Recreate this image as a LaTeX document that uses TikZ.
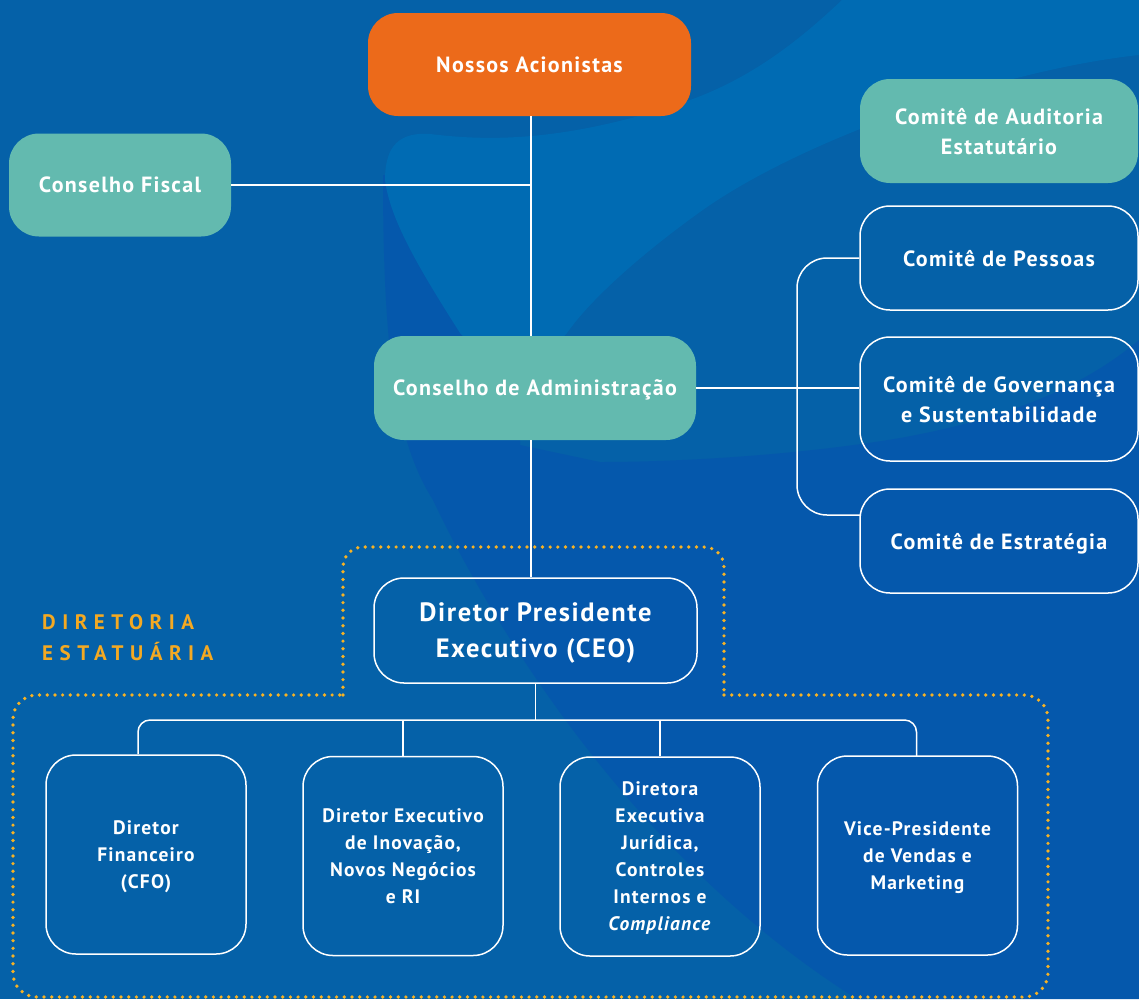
\documentclass[tikz,border=0pt]{standalone}
\usepackage{fontspec}
\setmainfont{PT Sans}[LetterSpace=6]
\newfontfamily\spacedfont[LetterSpace=31]{PT Sans}
\usetikzlibrary{calc}
\definecolor{bgbase}{HTML}{0561A8}
\definecolor{bglight}{HTML}{006BB3}
\definecolor{bgdark}{HTML}{0558AC}
\definecolor{boxteal}{HTML}{63BAAF}
\definecolor{boxorange}{HTML}{EC6A1A}
\definecolor{dotgold}{HTML}{F7B224}
\definecolor{textgold}{HTML}{F4A922}
\begin{document}
\begin{tikzpicture}[x=1pt,y=-1pt,
  basebox/.style={rounded corners=30pt, align=center, text=white, inner sep=0pt, text depth=0pt,
    font=\bfseries\fontsize{22pt}{30pt}\selectfont},
  solidbox/.style={basebox, fill=#1},
  linebox/.style={basebox, draw=white, line width=1.5pt},
  smallbox/.style={linebox, minimum width=200pt, minimum height=199pt,
    font=\bfseries\fontsize{19.5pt}{27pt}\selectfont},
  conn/.style={draw=white, line width=1.5pt},
  dotline/.style={draw=dotgold, line width=3.7pt, line cap=round, dash pattern=on 0pt off 7.7pt}]
% background
\useasboundingbox (0,0) rectangle (1139,999);
\fill[bgbase] (0,0) rectangle (1139,999);
\fill[bgdark] (383,175) .. controls (383,350) and (395,440) .. (433,500)
  .. controls (480,600) and (620,850) .. (857,999) -- (1139,999) -- (1139,340)
  .. controls (1080,390) and (1000,420) .. (900,438) .. controls (800,455) and (680,462) .. (600,462)
  -- (520,445) -- (520,175) -- cycle;
\fill[bglight] (385,180) .. controls (385,145) and (400,132) .. (430,134)
  .. controls (480,140) and (560,145) .. (690,100) .. controls (760,75) and (810,30) .. (842,0)
  -- (1139,0) -- (1139,55) .. controls (1000,70) and (800,140) .. (700,212)
  .. controls (640,255) and (590,300) .. (567,333) -- (515,390) -- (460,333)
  .. controls (420,270) and (390,220) .. (385,180) -- cycle;
% nodes
\node[solidbox=boxorange, minimum width=323pt, minimum height=103pt] (nossos) at (529.5,64.5) {Nossos Acionistas};
\node[solidbox=boxteal, minimum width=222pt, minimum height=103pt] (fiscal) at (120,185) {Conselho Fiscal};
\node[solidbox=boxteal, minimum width=322pt, minimum height=104pt] (ca) at (535,388) {Conselho de Administração};
\node[solidbox=boxteal, minimum width=278pt, minimum height=104pt] (auditoria) at (999,131) {Comitê de Auditoria\\Estatutário};
\node[linebox, minimum width=278pt, minimum height=104pt] (pessoas) at (999,258) {Comitê de Pessoas};
\node[linebox, minimum width=278pt, minimum height=124pt] (governanca) at (999,399) {Comitê de Governança\\e Sustentabilidade};
\node[linebox, minimum width=278pt, minimum height=104pt] (estrategia) at (999,541) {Comitê de Estratégia};
\node[linebox, minimum width=323pt, minimum height=105pt, font=\bfseries\fontsize{26.5pt}{36pt}\selectfont] (ceo) at (535.5,630.5) {Diretor Presidente\\Executivo (CEO)};
\node[smallbox] (b1) at (146,854.5) {Diretor\\Financeiro\\(CFO)};
\node[smallbox] (b2) at (403,856) {Diretor Executivo\\de Inovação,\\Novos Negócios\\e RI};
\node[smallbox] (b3) at (660,856.5) {Diretora\\Executiva\\Jurídica,\\Controles\\Internos e\\\textit{Compliance}};
\node[smallbox] (b4) at (917.5,855.5) {Vice-Presidente\\de Vendas e\\Marketing};
\node[anchor=west, align=left, text=textgold, inner sep=0pt,
  font=\spacedfont\bfseries\fontsize{21pt}{31pt}\selectfont] (diretoria) at (42,638) {DIRETORIA\\ESTATUÁRIA};
% coordinates
\coordinate (trunk) at (531,0);
\coordinate (brx) at (797,0);
\coordinate (brb) at (861,515);
\coordinate (bus) at (0,720);
\coordinate (d1) at (138,754);
\coordinate (d4) at (916.5,756);
% connectors
\draw[conn] (trunk |- nossos.south) -- (trunk |- ca.north);
\draw[conn] (fiscal.east) -- (trunk |- fiscal.east);
\draw[conn] (trunk |- ca.south) -- (trunk |- ceo.north);
\draw[conn] (ca.east) -- (ca.east -| governanca.west);
\draw[conn, rounded corners=30pt] (pessoas.west) -- (brx |- pessoas.west) -- (brx |- brb) -- (brb);
\draw[conn] (ceo.south) -- (ceo.south |- bus);
\draw[conn, rounded corners=12pt] (d1) -- (d1 |- bus) -- (d4 |- bus) -- (d4);
\draw[conn] (b2.north) -- (b2.north |- bus);
\draw[conn] (b3.north) -- (b3.north |- bus);
% dotted frame
\draw[dotline, rounded corners=20pt] (343,695) -- (343,547) -- (724,547) -- (724,695);
\draw[dotline, rounded corners=24pt] (724,695) -- (1048,695) -- (1048,997) -- (13,997) -- (13,695) -- (343,695);
\end{tikzpicture}
\end{document}
